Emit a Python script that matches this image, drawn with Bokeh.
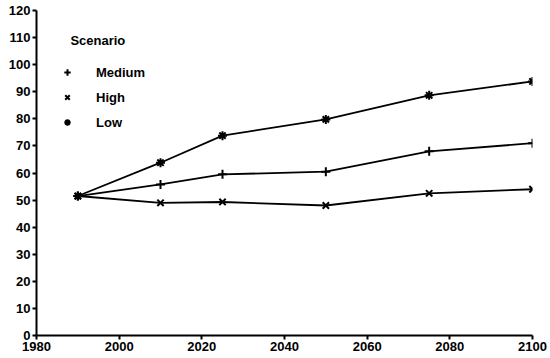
from bokeh.plotting import figure
from bokeh.models import Range1d, Legend, LegendItem, FixedTicker, Label
from bokeh.embed import file_html
from bokeh.resources import INLINE

years = [1990, 2010, 2025, 2050, 2075, 2100]
medium = [51.5, 55.8, 59.5, 60.5, 68.0, 71.0]
high = [51.5, 49.0, 49.3, 48.0, 52.5, 54.0]
low = [51.5, 63.8, 73.8, 79.8, 88.7, 93.8]
x_ticks = [1980, 2000, 2020, 2040, 2060, 2080, 2100]
y_ticks = list(range(0, 121, 10))

FONT = "Liberation Sans"

p = figure(width=548, height=356, output_backend="svg", toolbar_location=None,
           x_range=Range1d(1980, 2100), y_range=Range1d(0, 120),
           min_border_left=36, min_border_right=16, min_border_top=10, min_border_bottom=21)
p.outline_line_color = None
p.grid.visible = False
p.background_fill_color = "white"

for ax in (p.xaxis[0], p.yaxis[0]):
    ax.axis_line_color = "black"
    ax.axis_line_width = 2
    ax.major_tick_line_color = "black"
    ax.major_tick_line_width = 2
    ax.major_tick_out = 4
    ax.major_tick_in = 0
    ax.minor_tick_line_color = None
    ax.major_label_text_font = FONT
    ax.major_label_text_font_style = "bold"
    ax.major_label_text_font_size = "13px"
    ax.major_label_text_color = "black"
    ax.major_label_standoff = 2

p.xaxis[0].ticker = FixedTicker(ticks=x_ticks)
p.yaxis[0].ticker = FixedTicker(ticks=y_ticks)

series = [("Medium", medium, "cross"), ("High", high, "x"), ("Low", low, "asterisk")]
items = []
for name, vals, mk in series:
    p.line(years, vals, line_color="black", line_width=1.8)
    r = p.scatter(years, vals, marker=mk, size=9, line_color="black", line_width=2)
    items.append(LegendItem(label=name, renderers=[r]))

legend = Legend(items=items, location=(22, 205),
                label_text_font=FONT, label_text_font_style="bold", label_text_font_size="13px",
                label_text_color="black",
                border_line_color=None, background_fill_alpha=0,
                glyph_width=18, glyph_height=16, label_height=16, label_standoff=20,
                spacing=9, padding=0, margin=0)
p.add_layout(legend, "center")

title = Label(x=1988.2, y=108.9, text="Scenario", text_font=FONT, text_font_style="bold",
              text_font_size="13px", text_baseline="middle", text_color="black")
p.add_layout(title)

open("out.html", "w").write(file_html(p, INLINE))
